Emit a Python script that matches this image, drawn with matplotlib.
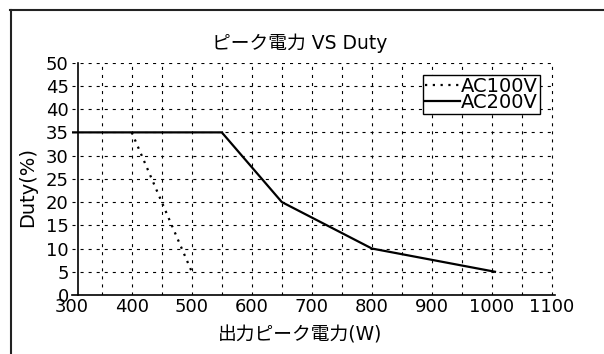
import numpy as np
import matplotlib.pyplot as plt
from matplotlib.lines import Line2D

plt.rcParams['font.family'] = ['DejaVu Sans', 'Noto Sans CJK JP']
plt.rcParams['lines.scale_dashes'] = False

# ピーク電力とDutyの関係
power_100 = [400, 500]
duty_100 = [35, 5]
power_200 = [300, 550, 650, 800, 1005]
duty_200 = [35, 35, 20, 10, 5]

x_ticks = [300, 400, 500, 600, 700, 800, 900, 1000, 1100]
x_minor = [350, 450, 550, 650, 750, 850, 950, 1050]
y_ticks = [0, 5, 10, 15, 20, 25, 30, 35, 40, 45, 50]

fig = plt.figure(figsize=(6.04, 3.54), dpi=100)
ax = fig.add_axes([0.1187, 0.1667, 0.8002, 0.6562])

ax.plot(power_100, duty_100, color='black', lw=1.6, linestyle=(0, (1.6, 4)), label='AC100V')
ax.plot(power_200, duty_200, color='black', lw=1.6, label='AC200V')

ax.set_xlim(300, 1105)
ax.set_ylim(0, 50)
ax.set_xticks(x_ticks)
ax.set_xticks(x_minor, minor=True)
ax.set_yticks(y_ticks)
ax.grid(True, which='both', color='black', lw=0.8, linestyle=(0, (2.2, 3.6)))
ax.get_xgridlines()[0].set_visible(False)

ax.spines['top'].set_visible(False)
ax.spines['right'].set_visible(False)
ax.spines['left'].set_position(('data', 310))
for s in ('left', 'bottom'):
    ax.spines[s].set_linewidth(1.2)

ax.tick_params(which='both', length=0, labelsize=13)
ax.tick_params(axis='x', pad=2)
ax.tick_params(axis='y', pad=6.5)

leg = ax.legend(loc='upper right', bbox_to_anchor=(0.969, 0.947), fontsize=14,
                fancybox=False, edgecolor='black', framealpha=1, borderpad=0.1,
                labelspacing=-0.15, handlelength=1.8, handletextpad=0.05,
                borderaxespad=0)
leg.get_frame().set_linewidth(1.0)

fig.text(300 / 604, 1 - 43 / 354, 'ピーク電力 VS Duty', ha='center', va='center', fontsize=13.5)
fig.text(300 / 604, 1 - 335 / 354, '出力ピーク電力(W)', ha='center', va='center', fontsize=13.5)
fig.text(28 / 604, 1 - 187 / 354, 'Duty(%)', ha='center', va='center', rotation=90, fontsize=14)

# 外枠（上辺と左辺）
fig.add_artist(Line2D([10 / 604, 1], [1 - 9.5 / 354] * 2, color='#222222', lw=1.5))
fig.add_artist(Line2D([11 / 604] * 2, [0, 1 - 9.5 / 354], color='#222222', lw=1.5))

fig.savefig('out.png', dpi=100)
